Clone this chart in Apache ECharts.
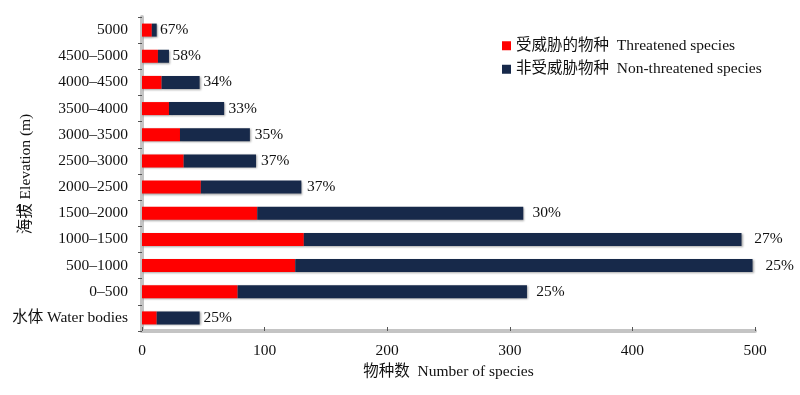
<!DOCTYPE html>
<html>
<head>
<meta charset="utf-8">
<script src="https://cdn.jsdelivr.net/npm/echarts@6/dist/echarts.min.js"></script>
<style>html,body{margin:0;padding:0;background:#fff;}#c{width:800px;height:395px;}</style>
</head>
<body>
<div id="c"></div>
<script>
const categories = ['水体 Water bodies','0–500','500–1000','1000–1500','1500–2000','2000–2500','2500–3000','3000–3500','3500–4000','4000–4500','4500–5000','5000'];
const threatened = [12, 78, 125, 132, 94, 48, 34, 31, 22, 16, 13, 8];
const nonThreatened = [35, 236, 373, 357, 217, 82, 59, 57, 45, 31, 9, 4];
const percentLabels = ['25%','25%','25%','27%','30%','37%','37%','35%','33%','34%','58%','67%'];
const xTicks = [0, 100, 200, 300, 400, 500];

const FONT = '"Liberation Serif", "Times New Roman", "Noto Sans CJK SC", serif';
const chart = echarts.init(document.getElementById('c'), null, {renderer: 'canvas'});
const barShadow = {shadowColor: 'rgba(0,0,0,0.35)', shadowBlur: 2, shadowOffsetX: 1, shadowOffsetY: 1};
const nonData = nonThreatened.map((v, i) => ({
  value: v,
  label: {distance: 3 + (v + threatened[i]) * 0.02}
}));
chart.setOption({
  animation: false,
  textStyle: {fontFamily: FONT},
  legend: {
    orient: 'vertical', left: 497, top: 33, itemWidth: 9, itemHeight: 9, itemGap: 8,
    icon: 'rect',
    textStyle: {fontFamily: FONT, fontSize: 15.5, color: '#111'},
    data: ['受威胁的物种  Threatened species', '非受威胁物种  Non-threatened species']
  },
  grid: {left: 142, right: 45, top: 17, bottom: 64, containLabel: false, outerBoundsMode: 'none'},
  xAxis: {
    type: 'value', min: xTicks[0], max: xTicks[xTicks.length-1], interval: 100,
    name: '物种数  Number of species', nameLocation: 'middle', nameGap: 33, nameMoveOverlap: false,
    nameTextStyle: {fontFamily: FONT, fontSize: 15.5, color: '#111'},
    axisLine: {show: true, lineStyle: {color: '#c4c4c4', width: 4}},
    axisTick: {show: true, inside: true, length: 4, lineStyle: {color: '#555', width: 1}},
    axisLabel: {fontFamily: FONT, fontSize: 15.5, color: '#111', margin: 12},
    splitLine: {show: false}
  },
  yAxis: {
    type: 'category', data: categories,
    name: '海拔 Elevation (m)', nameLocation: 'middle', nameGap: 108, nameMoveOverlap: false,
    nameTextStyle: {fontFamily: FONT, fontSize: 15.5, color: '#111'},
    axisLine: {show: true, lineStyle: {color: '#c4c4c4', width: 4}},
    axisTick: {show: true, length: 4, lineStyle: {color: '#555', width: 1}},
    axisLabel: {fontFamily: FONT, fontSize: 15.5, color: '#111', margin: 14}
  },
  series: [
    {
      name: '受威胁的物种  Threatened species', type: 'bar', stack: 'a', barWidth: 13,
      itemStyle: Object.assign({color: '#ff0000'}, barShadow),
      data: threatened
    },
    {
      name: '非受威胁物种  Non-threatened species', type: 'bar', stack: 'a', barWidth: 13,
      itemStyle: Object.assign({color: '#17294a'}, barShadow),
      label: {
        show: true, position: 'right', distance: 5,
        fontFamily: FONT, fontSize: 15.5, color: '#111',
        formatter: p => percentLabels[p.dataIndex]
      },
      data: nonData
    }
  ]
});
</script>
</body>
</html>
